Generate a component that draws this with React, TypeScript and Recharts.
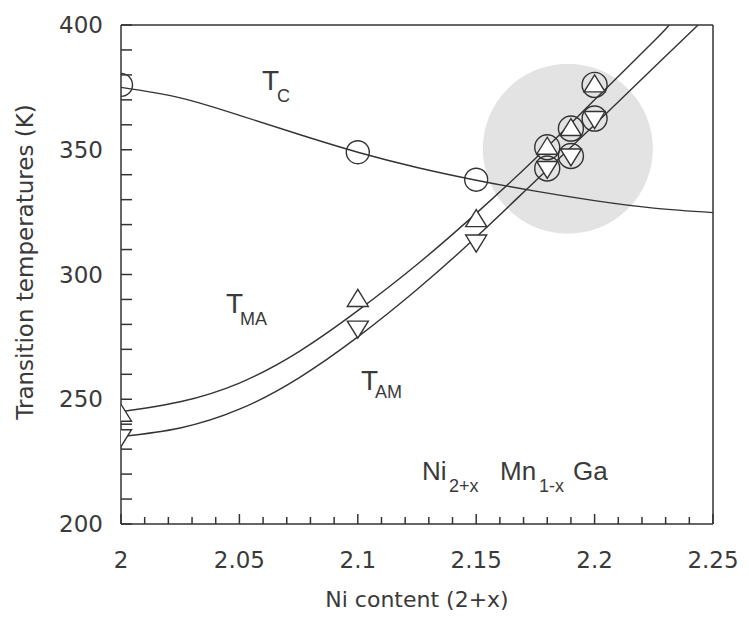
import { ComposedChart, Line, Scatter, XAxis, YAxis, ReferenceLine } from "recharts"

// curves
const curveX = [2, 2.025, 2.05, 2.075, 2.1, 2.125, 2.15, 2.175, 2.2, 2.225, 2.25]
const tcCurve = [375, 370.8, 363.8, 356.2, 349, 342.9, 337.8, 333.4, 329.6, 326.6, 324.8]

const maCurveX = [2, 2.025, 2.05, 2.075, 2.1, 2.125, 2.15, 2.175, 2.2, 2.225, 2.2315]
const maCurve = [245, 249, 256.5, 269, 285.5, 304, 324.5, 346.5, 370, 393.5, 400]

const amCurveX = [2, 2.025, 2.05, 2.075, 2.1, 2.125, 2.15, 2.175, 2.2, 2.225, 2.2437]
const amCurve = [235, 238.5, 246, 258.5, 275, 294, 315, 337.5, 360, 383, 400]

// measured points
const tcX = [2, 2.1, 2.15]
const tcY = [376, 349, 338]
const maX = [2, 2.1, 2.15, 2.18, 2.19, 2.2]
const maY = [244, 290, 322, 351, 358.5, 376]
const amX = [2, 2.1, 2.15, 2.18, 2.19, 2.2]
const amY = [235, 278.5, 313, 342.5, 347.5, 362.5]
const ringX = [2.18, 2.19, 2.2, 2.18, 2.19, 2.2]
const ringY = [351, 358.5, 376, 342.5, 347.5, 362.5]

// shaded highlight
const highlightX = [2.1887]
const highlightY = [350.4]

const xTicks = [
  2, 2.01, 2.02, 2.03, 2.04, 2.05, 2.06, 2.07, 2.08, 2.09, 2.1, 2.11, 2.12,
  2.13, 2.14, 2.15, 2.16, 2.17, 2.18, 2.19, 2.2, 2.21, 2.22, 2.23, 2.24, 2.25,
]
const xLabels = ["2", "2.05", "2.1", "2.15", "2.2", "2.25"]
const yTicks = [
  200, 210, 220, 230, 240, 250, 260, 270, 280, 290, 300, 310, 320, 330, 340,
  350, 360, 370, 380, 390, 400,
]
const yLabels = ["200", "250", "300", "350", "400"]

const pts = (xs: number[], ys: number[]) => xs.map((x, i) => ({ x, y: ys[i] }))

const INK = "#333"
const TEXT = "#3a3a3a"
const AXIS_FONT = "'DejaVu Sans', sans-serif"
const LABEL_FONT = "'Liberation Sans', Arial, sans-serif"

const XTick = (props: any) => {
  const { x, y, payload } = props
  const label = String(Number(payload.value.toFixed(2)))
  const major = xLabels.includes(label)
  return (
    <g>
      <line x1={x} y1={y} x2={x} y2={y - (major ? 10 : 7)} stroke={INK} strokeWidth={1.5} />
      {major && (
        <text x={x} y={y + 44} textAnchor="middle" fontSize={23} fill={TEXT} fontFamily={AXIS_FONT}>
          {label}
        </text>
      )}
    </g>
  )
}

const YTick = (props: any) => {
  const { x, y, payload } = props
  const label = String(payload.value)
  const major = yLabels.includes(label)
  return (
    <g>
      <line x1={x} y1={y} x2={x + 11} y2={y} stroke={INK} strokeWidth={1.5} />
      {major && (
        <text x={x - 18} y={y + 8} textAnchor="end" fontSize={23} fill={TEXT} fontFamily={AXIS_FONT}>
          {label}
        </text>
      )}
    </g>
  )
}

const openCircle = (p: any) => (
  <circle cx={p.cx} cy={p.cy} r={11.5} fill="none" stroke={INK} strokeWidth={1.4} />
)
const ring = (p: any) => (
  <circle cx={p.cx} cy={p.cy} r={12.5} fill="none" stroke={INK} strokeWidth={1.4} />
)
const upTri = (p: any) => (
  <path
    d={`M${p.cx},${p.cy - 10} L${p.cx - 10.5},${p.cy + 7} L${p.cx + 10.5},${p.cy + 7} Z`}
    fill="#fff"
    stroke={INK}
    strokeWidth={1.4}
  />
)
const downTri = (p: any) => (
  <path
    d={`M${p.cx - 10.5},${p.cy - 7} L${p.cx + 10.5},${p.cy - 7} L${p.cx},${p.cy + 10} Z`}
    fill="#fff"
    stroke={INK}
    strokeWidth={1.4}
  />
)
const disc = (p: any) => <circle cx={p.cx} cy={p.cy} r={85} fill="#e3e3e3" />

export default function App() {
  return (
    <div style={{ position: "absolute", left: 0, top: 0, width: 749, height: 618, background: "#fff" }}>
      <ComposedChart
        width={749}
        height={618}
        margin={{ top: 25, right: 36, left: 0, bottom: 0 }}
      >
        <XAxis
          type="number"
          dataKey="x"
          domain={[2, 2.25]}
          ticks={xTicks}
          interval={0}
          tickSize={0}
          tickMargin={0}
          tick={<XTick />}
          tickLine={false}
          axisLine={{ stroke: INK, strokeWidth: 1.5 }}
          height={94}
          allowDataOverflow
        />
        <YAxis
          type="number"
          dataKey="y"
          domain={[200, 400]}
          ticks={yTicks}
          interval={0}
          tickSize={0}
          tickMargin={0}
          tick={<YTick />}
          tickLine={false}
          axisLine={{ stroke: INK, strokeWidth: 1.5 }}
          width={121}
          allowDataOverflow
        />
        <ReferenceLine y={400} stroke={INK} strokeWidth={1.5} />
        <ReferenceLine x={2.25} stroke={INK} strokeWidth={1.5} />
        <Scatter data={pts(highlightX, highlightY)} shape={disc} isAnimationActive={false} zIndex={50} />
        <Line data={pts(curveX, tcCurve)} dataKey="y" type="natural" stroke={INK} strokeWidth={1.4} dot={false} isAnimationActive={false} />
        <Line data={pts(maCurveX, maCurve)} dataKey="y" type="natural" stroke={INK} strokeWidth={1.4} dot={false} isAnimationActive={false} />
        <Line data={pts(amCurveX, amCurve)} dataKey="y" type="natural" stroke={INK} strokeWidth={1.4} dot={false} isAnimationActive={false} />
        <Scatter data={pts(tcX, tcY)} shape={openCircle} isAnimationActive={false} />
        <Scatter data={pts(ringX, ringY)} shape={ring} isAnimationActive={false} />
        <Scatter data={pts(maX, maY)} shape={upTri} isAnimationActive={false} />
        <Scatter data={pts(amX, amY)} shape={downTri} isAnimationActive={false} />
      </ComposedChart>
      <svg
        width={749}
        height={618}
        style={{ position: "absolute", left: 0, top: 0, pointerEvents: "none" }}
        fill={TEXT}
      >
        <text x={25} y={262} transform="rotate(-90 25 262)" textAnchor="middle" dominantBaseline="central" fontSize={23} fontFamily={AXIS_FONT}>
          Transition temperatures (K)
        </text>
        <text x={417} y={607} textAnchor="middle" fontSize={22} fontFamily={AXIS_FONT}>
          Ni content (2+x)
        </text>
        <g fontFamily={LABEL_FONT}>
          <text x={262} y={90} fontSize={28}>
            T<tspan fontSize={18} dx={-2} dy={12}>C</tspan>
          </text>
          <text x={226} y={313} fontSize={28}>
            T<tspan fontSize={18} dx={-3} dy={12}>MA</tspan>
          </text>
          <text x={361} y={390} fontSize={28}>
            T<tspan fontSize={18} dx={-3} dy={8}>AM</tspan>
          </text>
          <text x={422} y={480} fontSize={26}>Ni</text>
          <text x={449} y={492} fontSize={18}>2+x</text>
          <text x={500} y={480} fontSize={26}>Mn</text>
          <text x={539} y={492} fontSize={18}>1-x</text>
          <text x={573} y={480} fontSize={26}>Ga</text>
        </g>
      </svg>
    </div>
  )
}
